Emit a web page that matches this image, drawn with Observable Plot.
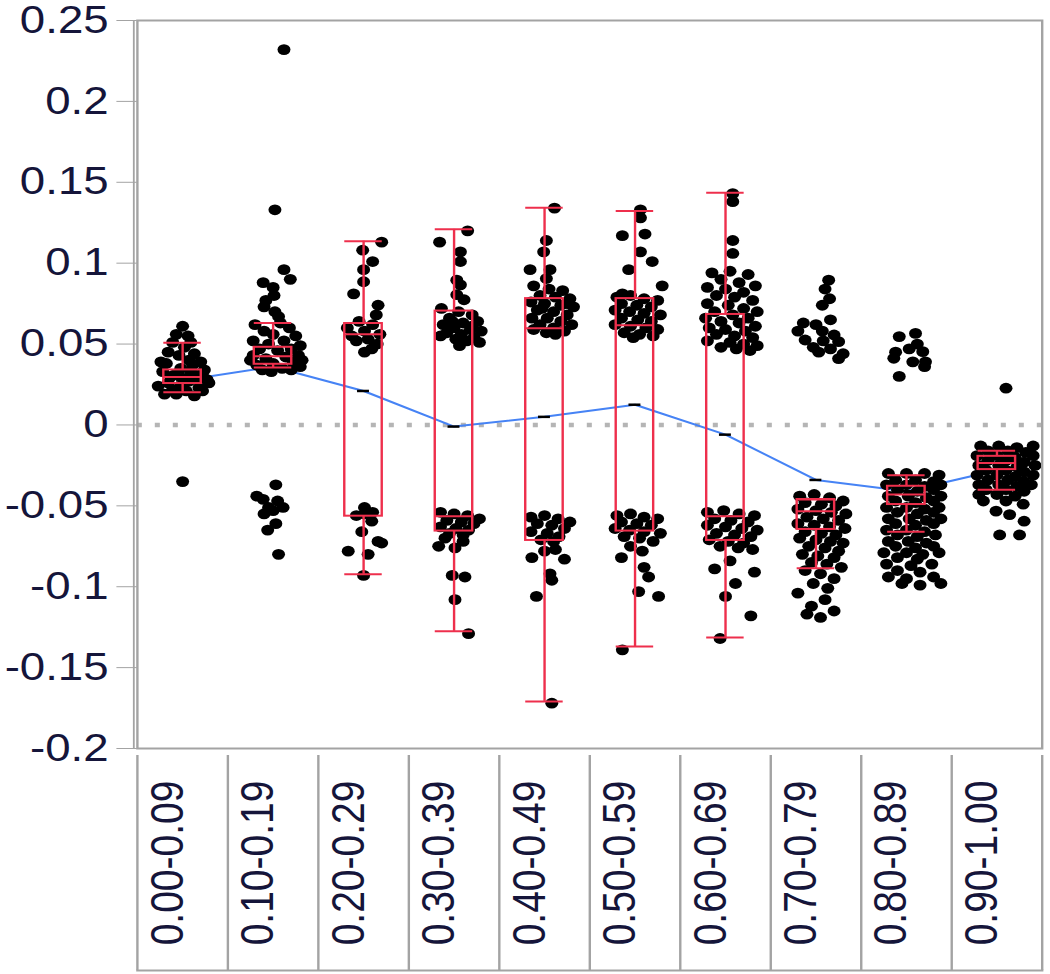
<!DOCTYPE html>
<html><head><meta charset="utf-8">
<script src="https://cdn.jsdelivr.net/npm/d3@7"></script>
<script src="https://cdn.jsdelivr.net/npm/@observablehq/plot@0.6"></script>
<style>html,body{margin:0;padding:0;background:#fff;} #chart svg{display:block;}</style>
</head><body><div id="chart"></div>
<script>
const categories = ["0.00-0.09","0.10-0.19","0.20-0.29","0.30-0.39","0.40-0.49","0.50-0.59","0.60-0.69","0.70-0.79","0.80-0.89","0.90-1.00"];
const yDomain = [-0.2, 0.25];
const yTicks = [0.25, 0.2, 0.15, 0.1, 0.05, 0, -0.05, -0.1, -0.15, -0.2];
const bandEdges = [-0.5, 0.5, 1.5, 2.5, 3.5, 4.5, 5.5, 6.5, 7.5, 8.5, 9.5];

// box-plot statistics per category
const whiskerHigh = [0.0508, 0.063, 0.1136, 0.1209, 0.1342, 0.1322, 0.1435, -0.0461, -0.0311, -0.0159];
const q3 = [0.034, 0.048, 0.0627, 0.0704, 0.0781, 0.0781, 0.0683, -0.0461, -0.0379, -0.0194];
const median = [0.0297, 0.0425, 0.056, -0.0564, 0.0597, 0.0617, -0.0564, -0.0533, -0.043, -0.0235];
const q1 = [0.0256, 0.0375, -0.0564, -0.0656, -0.0714, -0.0656, -0.0714, -0.0646, -0.0492, -0.0276];
const whiskerLow = [0.0202, 0.0355, -0.0923, -0.1276, -0.1709, -0.137, -0.1314, -0.0886, -0.066, -0.04];
const means = [0.0275, 0.036, 0.021, -0.001, 0.005, 0.0125, -0.006, -0.034, -0.041, -0.028];

// points per category: [jitter (fraction of band), value]
const pts0 = [[0.0,0.061],[-0.07,0.056],[0.06,0.055],[-0.11,0.051],[0.09,0.051],[0.02,0.048],[-0.16,0.045],[0.13,0.044],[-0.04,0.043],[0.07,0.040],[0.2,0.039],[-0.18,0.038],[0.11,0.037],[-0.02,0.035],[-0.22,0.033],[0.22,0.032],[-0.09,0.031],[0.27,0.028],[0.07,0.027],[-0.16,0.026],[-0.02,0.024],[0.18,0.023],[-0.11,0.022],[0.04,0.021],[-0.07,0.019],[0.13,0.018],[0.29,0.026],[0.24,0.034],[-0.24,0.039],[-0.27,0.024],[0.0,0.029],[0.16,0.029],[-0.2,0.019],[0.09,0.033],[0.22,0.021],[-0.13,0.030],[0.0,-0.035]];
const pts1 = [[0.12,0.232],[0.02,0.133],[0.12,0.096],[-0.11,0.088],[0.0,0.085],[-0.08,0.077],[0.19,0.090],[0.01,0.080],[-0.1,0.073],[0.02,0.070],[0.06,0.067],[-0.2,0.062],[0.08,0.063],[0.18,0.060],[-0.1,0.058],[0.25,0.055],[0.0,0.056],[-0.22,0.052],[0.12,0.052],[0.3,0.049],[-0.05,0.050],[0.2,0.047],[-0.15,0.047],[0.05,0.046],[0.28,0.043],[-0.22,0.043],[0.14,0.042],[-0.08,0.041],[0.22,0.039],[0.0,0.038],[-0.18,0.037],[0.3,0.036],[0.1,0.035],[-0.12,0.034],[0.2,0.034],[-0.02,0.033],[0.32,0.040],[-0.25,0.040],[0.03,-0.037],[-0.18,-0.044],[0.05,-0.047],[-0.11,-0.046],[0.11,-0.051],[0.0,-0.053],[-0.05,-0.051],[0.03,-0.061],[-0.06,-0.065],[0.06,-0.080],[-0.1,-0.055]];
const pts2 = [[0.2,0.113],[-0.01,0.108],[0.0,0.096],[0.1,0.101],[0.0,0.0885],[-0.11,0.081],[0.16,0.074],[0.14,0.068],[-0.13,0.055],[0.01,0.058],[0.09,0.047],[0.01,0.045],[-0.18,0.060],[0.1,0.062],[-0.05,0.064],[0.18,0.056],[-0.08,0.052],[0.15,0.050],[0.05,0.053],[0.01,-0.051],[0.09,-0.0595],[0.16,-0.072],[-0.02,-0.066],[-0.17,-0.078],[0.05,-0.080],[0.0,-0.093],[0.2,-0.073],[0.01,-0.055],[-0.08,-0.056],[0.1,-0.054]];
const pts3 = [[-0.16,0.113],[0.15,0.120],[0.07,0.107],[0.07,0.101],[0.03,0.0895],[0.07,0.0866],[0.03,0.0805],[0.11,0.0774],[-0.14,0.072],[0.05,0.070],[0.2,0.068],[-0.05,0.066],[0.26,0.064],[0.1,0.063],[-0.12,0.062],[0.0,0.060],[0.18,0.059],[0.3,0.058],[-0.08,0.057],[0.08,0.056],[0.22,0.054],[-0.15,0.055],[0.02,0.053],[0.14,0.052],[0.28,0.051],[0.06,0.049],[0.2,0.061],[-0.02,0.064],[-0.15,-0.054],[0.0,-0.055],[0.15,-0.056],[0.28,-0.058],[-0.08,-0.059],[0.08,-0.060],[0.22,-0.061],[-0.15,-0.063],[0.02,-0.064],[0.16,-0.065],[-0.05,-0.067],[0.1,-0.068],[-0.17,-0.075],[0.01,-0.076],[-0.02,-0.093],[0.12,-0.094],[0.01,-0.108],[0.16,-0.129],[0.1,-0.072],[-0.1,-0.070]];
const pts4 = [[0.11,0.134],[0.02,0.114],[-0.01,0.107],[-0.16,0.096],[0.06,0.096],[0.02,0.0905],[-0.12,0.086],[0.05,0.084],[0.2,0.083],[-0.05,0.080],[0.12,0.079],[0.28,0.078],[-0.15,0.076],[0.0,0.075],[0.18,0.074],[0.32,0.073],[-0.08,0.071],[0.1,0.070],[0.25,0.068],[-0.14,0.066],[0.03,0.066],[0.18,0.064],[-0.05,0.062],[0.3,0.062],[0.1,0.060],[-0.12,0.059],[0.22,0.058],[0.02,0.057],[0.12,0.056],[-0.03,0.072],[0.25,0.075],[-0.15,-0.057],[0.0,-0.056],[0.15,-0.058],[0.28,-0.060],[-0.08,-0.061],[0.08,-0.062],[0.22,-0.064],[-0.15,-0.066],[0.03,-0.067],[0.16,-0.069],[-0.04,-0.071],[0.1,-0.072],[-0.14,-0.082],[0.22,-0.083],[0.06,-0.092],[0.08,-0.096],[-0.09,-0.106],[0.08,-0.172],[0.0,-0.078],[0.12,-0.077]];
const pts5 = [[0.06,0.133],[0.06,0.128],[-0.14,0.117],[0.11,0.118],[0.06,0.107],[-0.07,0.096],[0.19,0.101],[0.3,0.086],[-0.14,0.081],[-0.2,0.079],[-0.05,0.080],[0.1,0.078],[0.25,0.077],[-0.15,0.075],[0.02,0.074],[0.18,0.073],[-0.22,0.071],[-0.06,0.070],[0.1,0.069],[0.28,0.068],[-0.15,0.066],[0.03,0.065],[0.18,0.064],[-0.22,0.062],[-0.05,0.061],[0.12,0.060],[0.25,0.059],[-0.12,0.057],[0.05,0.056],[0.2,0.055],[-0.02,0.054],[-0.2,-0.056],[-0.05,-0.055],[0.1,-0.057],[0.25,-0.058],[-0.15,-0.060],[0.02,-0.061],[0.18,-0.062],[-0.22,-0.064],[-0.06,-0.065],[0.1,-0.066],[0.28,-0.067],[-0.12,-0.069],[0.05,-0.070],[0.2,-0.072],[-0.15,-0.082],[0.08,-0.078],[0.04,-0.103],[0.26,-0.106],[-0.14,-0.139],[0.1,-0.088],[0.15,-0.094],[-0.05,-0.075]];
const pts6 = [[0.08,0.143],[0.08,0.138],[0.08,0.114],[0.08,0.106],[-0.15,0.094],[0.05,0.095],[0.25,0.093],[-0.05,0.090],[0.15,0.088],[0.33,0.086],[-0.2,0.085],[0.0,0.084],[0.2,0.082],[-0.1,0.080],[0.1,0.079],[0.3,0.077],[-0.2,0.075],[0.03,0.074],[0.2,0.072],[-0.12,0.070],[0.35,0.070],[0.08,0.068],[-0.22,0.066],[0.25,0.066],[-0.05,0.064],[0.15,0.063],[0.33,0.061],[-0.18,0.060],[0.0,0.059],[0.22,0.058],[-0.1,0.056],[0.1,0.055],[0.3,0.054],[-0.2,0.052],[0.05,0.051],[0.2,0.050],[-0.05,0.048],[0.35,0.049],[0.12,0.047],[0.27,0.046],[-0.2,-0.054],[-0.02,-0.053],[0.15,-0.055],[0.32,-0.056],[-0.12,-0.058],[0.06,-0.059],[0.25,-0.060],[-0.2,-0.062],[0.0,-0.063],[0.18,-0.064],[0.35,-0.065],[-0.1,-0.067],[0.1,-0.068],[0.28,-0.069],[-0.18,-0.071],[0.03,-0.072],[0.2,-0.073],[-0.06,-0.075],[0.14,-0.076],[0.3,-0.077],[-0.12,-0.089],[0.32,-0.091],[0.0,-0.106],[0.28,-0.118],[0.11,-0.098],[-0.06,-0.132],[0.05,-0.084]];
const pts7 = [[0.14,0.0895],[0.1,0.084],[0.07,0.074],[-0.14,0.063],[0.16,0.065],[-0.12,0.0525],[0.07,0.058],[0.25,0.0515],[0.03,0.045],[0.25,0.041],[0.16,0.047],[-0.03,0.048],[0.2,0.0556],[0.15,0.078],[-0.2,0.058],[0.0,0.062],[0.08,0.052],[0.3,0.044],[-0.18,-0.044],[-0.02,-0.043],[0.15,-0.045],[0.3,-0.047],[-0.12,-0.048],[0.06,-0.049],[0.22,-0.050],[-0.2,-0.052],[0.0,-0.053],[0.17,-0.054],[0.33,-0.055],[-0.1,-0.057],[0.08,-0.058],[0.25,-0.059],[-0.2,-0.061],[-0.02,-0.062],[0.15,-0.063],[0.32,-0.064],[-0.12,-0.066],[0.06,-0.067],[0.22,-0.068],[-0.18,-0.070],[0.0,-0.071],[0.16,-0.072],[0.3,-0.073],[-0.08,-0.075],[0.1,-0.076],[0.25,-0.078],[-0.15,-0.080],[0.02,-0.081],[0.2,-0.082],[-0.05,-0.085],[0.12,-0.086],[0.28,-0.088],[-0.12,-0.090],[0.05,-0.092],[0.2,-0.095],[-0.03,-0.098],[0.13,-0.101],[-0.2,-0.104],[0.1,-0.108],[-0.05,-0.112],[0.2,-0.115],[0.05,-0.119],[-0.1,-0.117]];
const pts8 = [[-0.08,0.0546],[0.1,0.0566],[-0.14,0.0412],[-0.08,0.030],[0.18,0.0453],[0.07,0.039],[0.2,0.036],[0.03,0.047],[0.21,0.039],[-0.12,0.045],[0.12,0.050],[-0.2,-0.030],[0.0,-0.030],[0.2,-0.030],[0.36,-0.031],[-0.12,-0.034],[0.1,-0.034],[0.3,-0.035],[-0.22,-0.037],[0.0,-0.037],[0.2,-0.038],[0.38,-0.037],[-0.1,-0.040],[0.12,-0.041],[0.3,-0.040],[-0.2,-0.044],[0.02,-0.044],[0.22,-0.045],[0.38,-0.044],[-0.12,-0.047],[0.1,-0.048],[0.3,-0.047],[-0.22,-0.051],[0.0,-0.051],[0.2,-0.052],[0.36,-0.051],[-0.1,-0.054],[0.12,-0.055],[0.3,-0.054],[-0.2,-0.058],[0.03,-0.058],[0.22,-0.059],[0.38,-0.058],[-0.12,-0.061],[0.1,-0.062],[0.3,-0.061],[-0.22,-0.065],[0.0,-0.065],[0.2,-0.066],[-0.1,-0.068],[0.12,-0.069],[0.32,-0.068],[-0.2,-0.072],[0.02,-0.072],[0.22,-0.073],[-0.12,-0.075],[0.1,-0.076],[0.3,-0.075],[-0.25,-0.079],[0.0,-0.079],[0.18,-0.080],[0.36,-0.079],[-0.1,-0.082],[0.12,-0.083],[-0.22,-0.086],[0.05,-0.087],[0.28,-0.086],[-0.1,-0.090],[0.15,-0.091],[-0.2,-0.094],[0.0,-0.095],[0.3,-0.094],[-0.05,-0.098],[0.15,-0.099],[0.38,-0.098]];
const pts9 = [[0.1,0.0227],[-0.18,-0.013],[0.02,-0.013],[0.22,-0.014],[0.4,-0.013],[-0.1,-0.016],[0.12,-0.016],[0.32,-0.017],[-0.22,-0.019],[0.0,-0.019],[0.2,-0.020],[0.4,-0.019],[-0.1,-0.022],[0.1,-0.022],[0.3,-0.023],[-0.2,-0.025],[0.02,-0.025],[0.22,-0.026],[0.42,-0.025],[-0.12,-0.028],[0.1,-0.028],[0.3,-0.029],[-0.22,-0.031],[0.0,-0.031],[0.2,-0.032],[0.4,-0.031],[-0.1,-0.034],[0.12,-0.034],[0.3,-0.035],[-0.2,-0.037],[0.02,-0.037],[0.22,-0.038],[0.38,-0.037],[-0.12,-0.040],[0.1,-0.040],[0.3,-0.041],[-0.2,-0.043],[0.0,-0.043],[0.2,-0.044],[0.03,-0.068],[0.25,-0.068],[0.3,-0.0595],[0.14,-0.0554],[-0.01,-0.0533],[0.29,-0.049],[-0.15,-0.047],[0.1,-0.047]];

const groups = [pts0, pts1, pts2, pts3, pts4, pts5, pts6, pts7, pts8, pts9];
const points = groups.flatMap((g, i) => g.map(([j, v]) => ({x: i + j, y: v})));
const stats = categories.map((c, i) => ({i, c, hi: whiskerHigh[i], q3: q3[i], med: median[i], q1: q1[i], lo: whiskerLow[i], mean: means[i]}));

const half = 0.207, dash = 0.066;
const red = "#ee2f4c", gray = "#a3a3a3", ink = "#15153a";
const lx1 = d => d.i - half, lx2 = d => d.i + half;

const plot = Plot.plot({
  width: 875, height: 974,
  marginLeft: 114, marginRight: 7, marginTop: 20, marginBottom: 219,
  style: {fontFamily: "'Liberation Sans', Arial, sans-serif", background: "white", overflow: "visible"},
  x: {domain: [-0.5, 9.5]},
  y: {domain: yDomain, insetBottom: 7},
  marks: [
    Plot.ruleY([0], {stroke: "#b5b5b5", strokeWidth: 4.5, strokeDasharray: "4.2,10.8"}),
    Plot.line(stats, {x: "i", y: "mean", stroke: "#4683f5", strokeWidth: 2}),
    Plot.ruleY(stats, {y: "mean", x1: d => d.i - dash, x2: d => d.i + dash, stroke: "black", strokeWidth: 2.5}),
    Plot.dot(points, {x: "x", y: "y", r: 5.4, fill: "black"}),
    Plot.rect(stats, {x1: lx1, x2: lx2, y1: "q1", y2: "q3", fill: "none", stroke: red, strokeWidth: 2}),
    Plot.ruleY(stats, {y: "med", x1: lx1, x2: lx2, stroke: red, strokeWidth: 2}),
    Plot.ruleX(stats, {x: "i", y1: "q3", y2: "hi", stroke: red, strokeWidth: 2}),
    Plot.ruleX(stats, {x: "i", y1: "lo", y2: "q1", stroke: red, strokeWidth: 2}),
    Plot.ruleY(stats, {y: "hi", x1: lx1, x2: lx2, stroke: red, strokeWidth: 2}),
    Plot.ruleY(stats, {y: "lo", x1: lx1, x2: lx2, stroke: red, strokeWidth: 2}),
    Plot.frame({insetBottom: 7, stroke: gray, strokeWidth: 2}),
    Plot.ruleX([bandEdges[0]], {y1: yDomain[0], y2: yDomain[1], dx: -3, stroke: gray, strokeWidth: 1.5}),
    Plot.axisY(yTicks, {tickSize: 17, tickPadding: 7, tickFormat: d => String(d), fontSize: 38, stroke: gray, fill: ink}),
    Plot.axisX(bandEdges, {tickSize: 215, tickFormat: () => "", stroke: gray, strokeWidth: 2}),
    Plot.frame({anchor: "bottom", insetBottom: -215, stroke: gray, strokeWidth: 2}),
    Plot.text(stats, {x: "i", text: "c", frameAnchor: "bottom", dy: 107.5, rotate: -90, fontSize: 39, fill: ink})
  ]
});
plot.setAttribute("width", 1050);
plot.setAttribute("height", 974);
plot.setAttribute("preserveAspectRatio", "none");
plot.style.maxWidth = "none";
plot.style.width = "1050px";
plot.style.height = "974px";
document.getElementById("chart").appendChild(plot);
</script>
</body></html>
